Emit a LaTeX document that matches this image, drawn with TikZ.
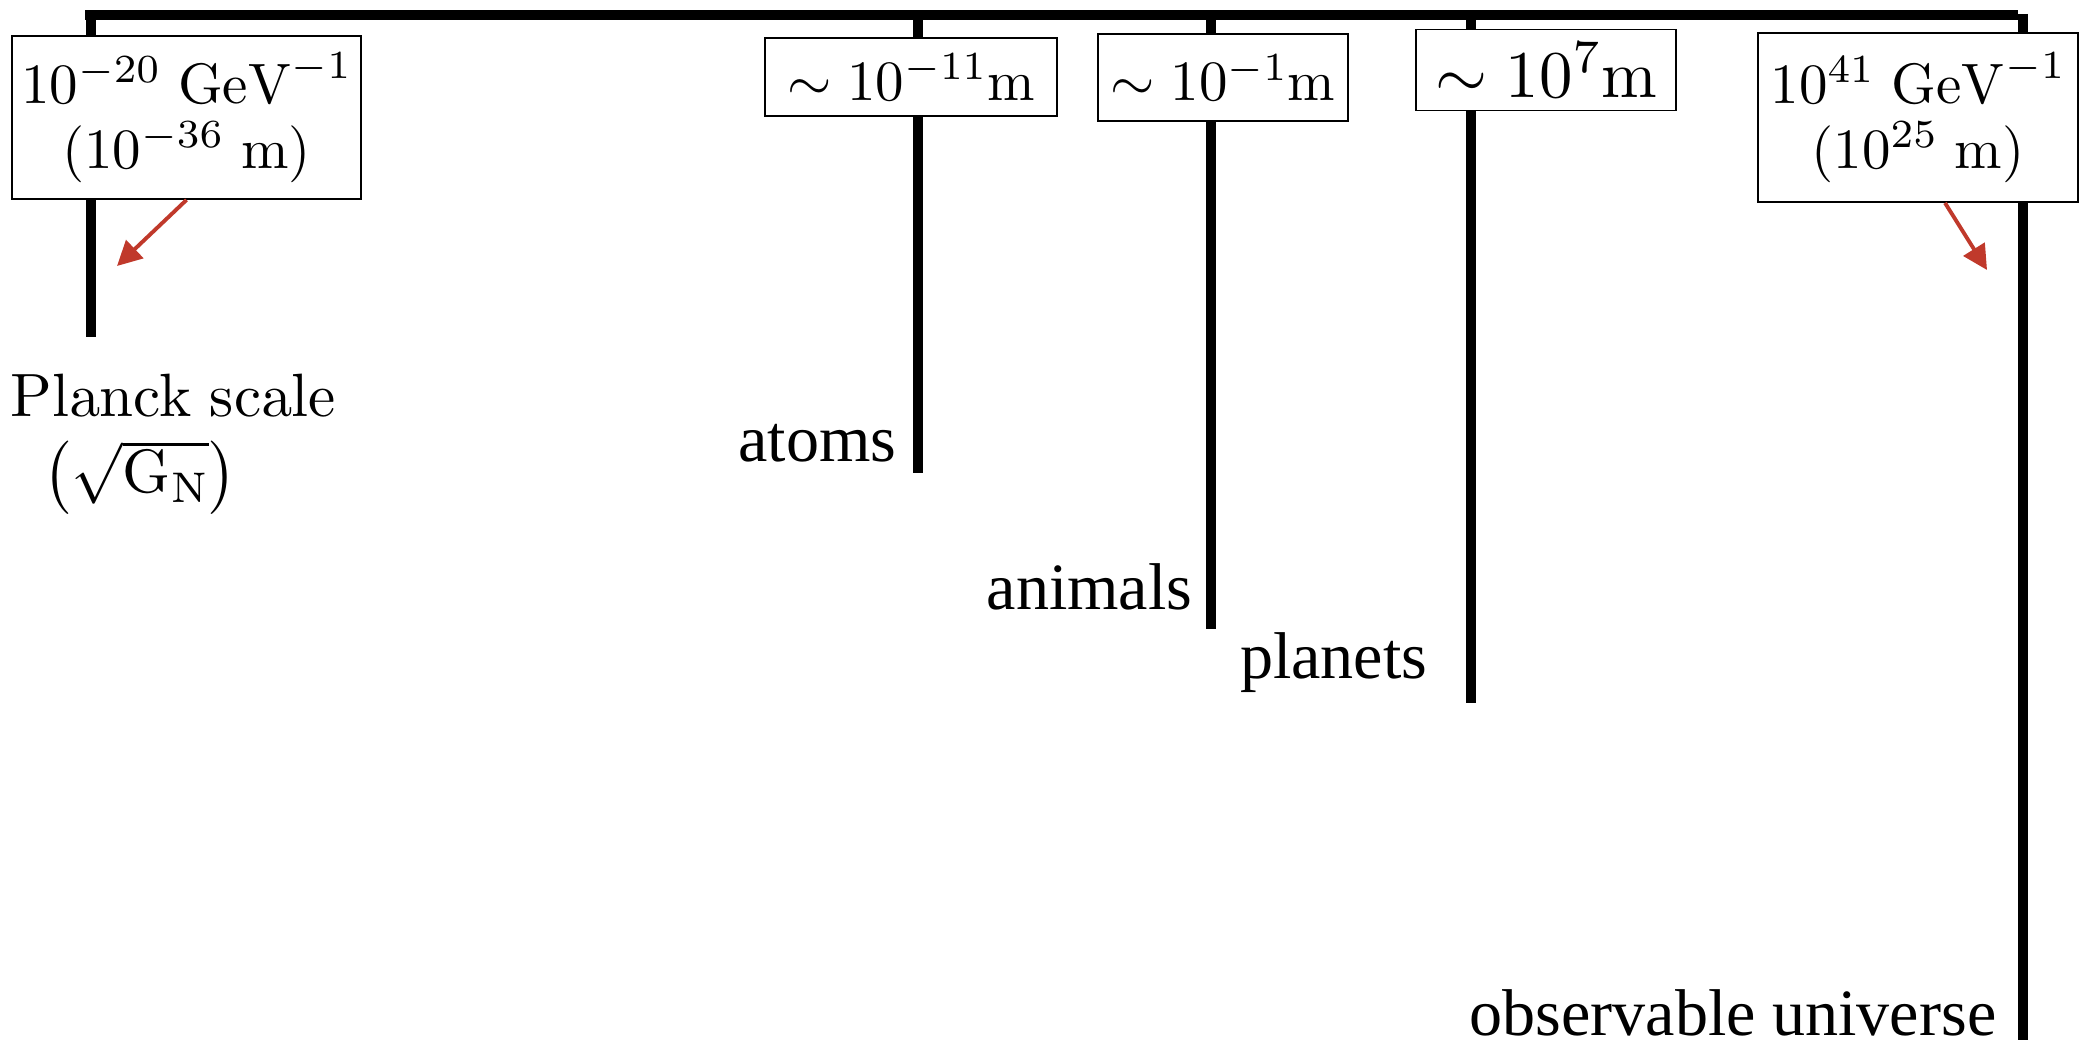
\documentclass[tikz,border=0pt]{standalone}
\usepackage{amsmath}
\usepackage[no-math]{fontspec}
\newfontfamily\timesfont{Liberation Serif}
\usetikzlibrary{arrows.meta,positioning}
\definecolor{arrowred}{RGB}{192,57,43}
% 10pt designs of the CM fonts, scaled up
\DeclareFontShape{OT1}{cmr}{m}{n}{<-9> cmr5 <9-14> cmr7 <14-> cmr10}{}
\DeclareFontShape{OML}{cmm}{m}{it}{<-9> cmmi5 <9-14> cmmi7 <14-> cmmi10}{}
\DeclareFontShape{OMS}{cmsy}{m}{n}{<-9> cmsy5 <9-14> cmsy7 <14-> cmsy10}{}
\DeclareFontShape{OMX}{cmex}{m}{n}{<-> cmex10}{}

\begin{document}
\begin{tikzpicture}[
    x=0.01cm, y=-0.01cm,
    bar/.style={line width=2.85pt},
    sizebox/.style={draw, line width=0.5pt, fill=white, inner sep=0pt, align=center,
      font=\fontsize{16.2}{18.5}\selectfont},
    cmlabel/.style={inner sep=0pt, anchor=base west, font=\fontsize{17.4}{20}\selectfont},
    objlabel/.style={inner sep=0pt, anchor=base east, font=\timesfont\fontsize{18.8}{22}\selectfont},
    pointer/.style={draw=arrowred, line width=1.1pt, -{Triangle[length=7pt, width=7pt]}},
]
\useasboundingbox (0,0) rectangle (2081,1049);

% the scale bar and the drops hanging from it
\coordinate (barL) at (85,15);
\coordinate (barR) at (2018,15);
\coordinate (planckTop) at (91,15);
\coordinate (planckEnd) at (91,337);
\coordinate (atomTop) at (918,15);
\coordinate (atomEnd) at (918,473);
\coordinate (animalTop) at (1211,15);
\coordinate (animalEnd) at (1211,629);
\coordinate (planetTop) at (1471,15);
\coordinate (planetEnd) at (1471,703);
\coordinate (universeTop) at (2023,14);
\coordinate (universeEnd) at (2023,1040);

\draw[bar] (barL) -- (barR);
\draw[bar] (planckTop) -- (planckEnd);
\draw[bar] (atomTop) -- (atomEnd);
\draw[bar] (animalTop) -- (animalEnd);
\draw[bar] (planetTop) -- (planetEnd);
\draw[bar] (universeTop) -- (universeEnd);

% length scales
\node[sizebox, minimum width=3.49cm, minimum height=1.63cm] (planckBox) at (186.5,117.5)
  {$10^{-20}\ \mathrm{GeV}^{-1}$\\$(10^{-36}\ \mathrm{m})$};
\node[sizebox, minimum width=2.92cm, minimum height=0.78cm] (atomBox) at (911,77)
  {$\sim 10^{-11}\mathrm{m}$};
\node[sizebox, minimum width=2.50cm, minimum height=0.87cm] (animalBox) at (1223,77.5)
  {$\sim 10^{-1}\mathrm{m}$};
\node[sizebox, minimum width=2.60cm, minimum height=0.81cm, font=\fontsize{19}{22}\selectfont]
  (planetBox) at (1546,70) {$\sim 10^{7}\mathrm{m}$};
\node[sizebox, minimum width=3.20cm, minimum height=1.69cm] (universeBox) at (1918,117.5)
  {$10^{41}\ \mathrm{GeV}^{-1}$\\$(10^{25}\ \mathrm{m})$};

% names at the ends
\node[cmlabel] (planckName) at (10,417) {$\mathrm{Planck\ scale}$};
\node[cmlabel] (planckG) at (43,493) {$\left(\sqrt{\mathrm{G}_\mathrm{N}}\right)$};
\node[objlabel] (atomName) at (897,462) {atoms};
\node[objlabel] (animalName) at (1193,610) {animals};
\node[objlabel] (planetName) at (1428,679) {planets};
\node[objlabel] (universeName) at (1997,1035) {observable universe};

% red pointers
\coordinate (planckTip) at (117,266);
\coordinate (universeTip) at (1987,270);
\draw[pointer] (planckBox.south) -- (planckTip);
\draw[pointer] ([xshift=0.27cm]universeBox.south) -- (universeTip);
\end{tikzpicture}
\end{document}
